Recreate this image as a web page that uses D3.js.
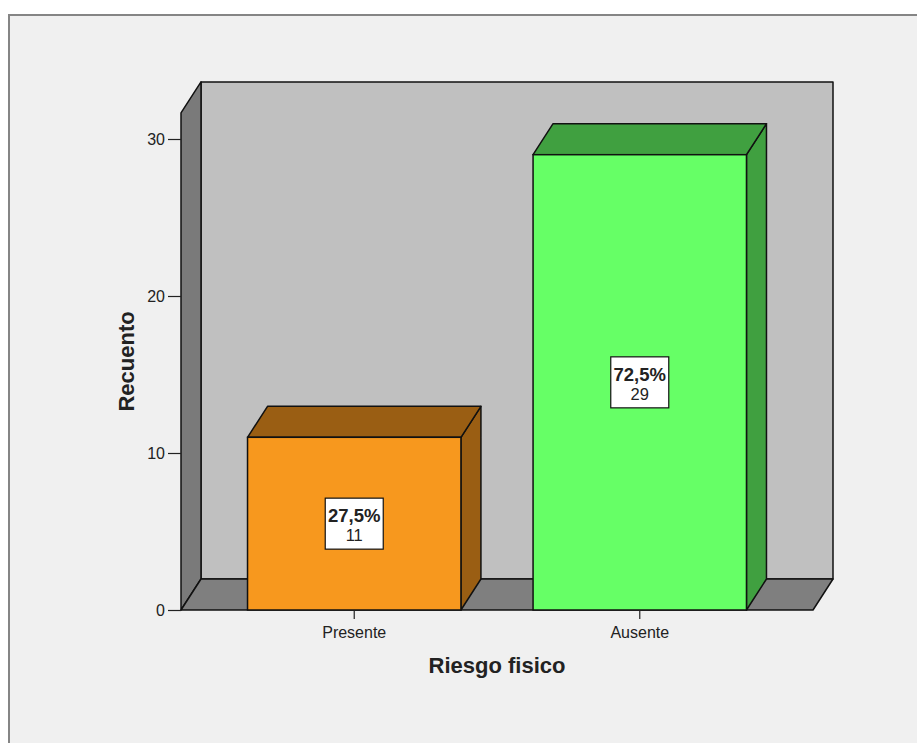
<!DOCTYPE html>
<html>
<head>
<meta charset="utf-8">
<script src="https://cdn.jsdelivr.net/npm/d3@7"></script>
<style>
  body { margin: 0; background: #ffffff; }
  svg { display: block; }
  text { font-family: Arial, "Liberation Sans", sans-serif; fill: #222; }
</style>
</head>
<body>
<svg id="chart" width="917" height="743"></svg>
<script>
// ---- data ----
const categories = ["Presente", "Ausente"];
const counts = [11, 29];
const percents = ["27,5%", "72,5%"];
const yTicks = [0, 10, 20, 30];
const xTitle = "Riesgo fisico";
const yTitle = "Recuento";

// ---- layout ----
const W = 917, H = 743;
const svg = d3.select("#chart");
const frontLeft = 181, frontRight = 813, baseY = 610;
const dx = 20, dy = -31;
const wallTopValue = 31.66;

const y = d3.scaleLinear().domain([0, 30]).range([baseY, 139]);
const x = d3.scaleBand().domain(categories).range([frontLeft, frontRight])
  .paddingInner(0.2526).paddingOuter(0.233);

const frontColors = ["#f7981e", "#66ff66"];
const darkColors = ["#9a5e13", "#40a040"];

// outer frame
svg.append("rect").attr("x", 9).attr("y", 15).attr("width", W + 20).attr("height", H + 20)
  .attr("fill", "#f0f0f0").attr("stroke", "#858585").attr("stroke-width", 2);

const poly = pts => pts.map(p => p.join(",")).join(" ");
const topY = y(wallTopValue);

// back wall
svg.append("polygon")
  .attr("points", poly([[frontLeft + dx, topY + dy], [frontRight + dx, topY + dy], [frontRight + dx, baseY + dy], [frontLeft + dx, baseY + dy]]))
  .attr("fill", "#c0c0c0").attr("stroke", "#111").attr("stroke-width", 1.5).attr("stroke-linejoin", "round");
// left wall
svg.append("polygon")
  .attr("points", poly([[frontLeft, topY], [frontLeft + dx, topY + dy], [frontLeft + dx, baseY + dy], [frontLeft, baseY]]))
  .attr("fill", "#7a7a7a").attr("stroke", "#111").attr("stroke-width", 1.5).attr("stroke-linejoin", "round");
// floor
svg.append("polygon")
  .attr("points", poly([[frontLeft, baseY], [frontLeft + dx, baseY + dy], [frontRight + dx, baseY + dy], [frontRight, baseY]]))
  .attr("fill", "#7f7f7f").attr("stroke", "#111").attr("stroke-width", 1.5).attr("stroke-linejoin", "round");

// bars
const bw = x.bandwidth();
categories.forEach((c, i) => {
  const x0 = x(c), yv = y(counts[i]);
  const g = svg.append("g");
  g.append("polygon")
    .attr("points", poly([[x0 + bw, yv], [x0 + bw + dx, yv + dy], [x0 + bw + dx, baseY + dy], [x0 + bw, baseY]]))
    .attr("fill", darkColors[i]).attr("stroke", "#111").attr("stroke-width", 1.5).attr("stroke-linejoin", "round");
  g.append("polygon")
    .attr("points", poly([[x0, yv], [x0 + dx, yv + dy], [x0 + bw + dx, yv + dy], [x0 + bw, yv]]))
    .attr("fill", darkColors[i]).attr("stroke", "#111").attr("stroke-width", 1.5).attr("stroke-linejoin", "round");
  g.append("rect").attr("x", x0).attr("y", yv).attr("width", bw).attr("height", baseY - yv)
    .attr("fill", frontColors[i]).attr("stroke", "#111").attr("stroke-width", 1.5);

  // label box
  const cx = x0 + bw / 2, cy = (yv + baseY) / 2;
  g.append("rect").attr("x", cx - 29).attr("y", cy - 25.5).attr("width", 58).attr("height", 51)
    .attr("fill", "#ffffff").attr("stroke", "#111").attr("stroke-width", 1.2);
  g.append("text").attr("x", cx).attr("y", cy - 1.5).attr("text-anchor", "middle")
    .attr("font-size", 18.5).attr("font-weight", "bold").attr("fill", "#111").text(percents[i]);
  g.append("text").attr("x", cx).attr("y", cy + 17.5).attr("text-anchor", "middle")
    .attr("font-size", 16.5).attr("fill", "#111").text(counts[i]);
});

// y axis ticks
const yAxis = d3.axisLeft(y).tickValues(yTicks).tickSize(13).tickPadding(3).tickFormat(d3.format("d"));
const ya = svg.append("g").attr("transform", `translate(${frontLeft},0)`).call(yAxis);
ya.select(".domain").remove();
ya.selectAll(".tick line").attr("stroke", "#222").attr("stroke-width", 1.2);
ya.selectAll(".tick text").attr("font-size", 16).attr("font-family", "Arial, 'Liberation Sans', sans-serif").attr("fill", "#222");

// x axis ticks
const xAxis = d3.axisBottom(x).tickSize(9).tickPadding(8);
const xa = svg.append("g").attr("transform", `translate(0,${baseY})`).call(xAxis);
xa.select(".domain").remove();
xa.selectAll(".tick line").attr("stroke", "#222").attr("stroke-width", 1.2);
xa.selectAll(".tick text").attr("font-size", 16).attr("font-family", "Arial, 'Liberation Sans', sans-serif").attr("fill", "#222");

// axis titles
svg.append("text").attr("x", (frontLeft + frontRight) / 2).attr("y", 673)
  .attr("text-anchor", "middle").attr("font-size", 22).attr("font-weight", "bold").attr("fill", "#111")
  .text(xTitle);
svg.append("text").attr("transform", `translate(134,${(topY + baseY) / 2}) rotate(-90)`)
  .attr("text-anchor", "middle").attr("font-size", 22).attr("font-weight", "bold").attr("fill", "#111")
  .text(yTitle);
</script>
</body>
</html>
